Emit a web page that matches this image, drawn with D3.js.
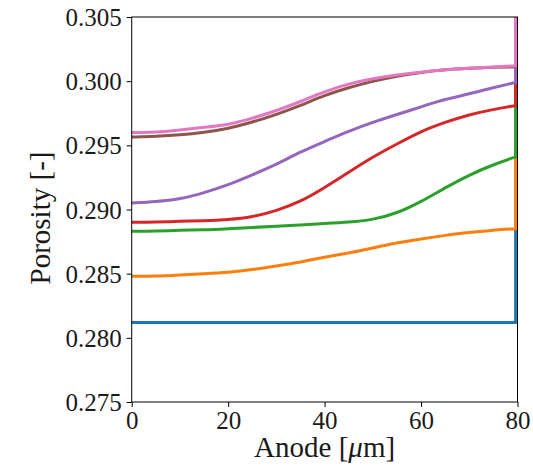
<!DOCTYPE html>
<html>
<head>
<meta charset="utf-8">
<script src="https://cdn.jsdelivr.net/npm/d3@7"></script>
<style>
  html, body { margin: 0; padding: 0; background: #fff; }
  svg { display: block; }
</style>
</head>
<body>
<svg id="chart" width="533" height="468"></svg>
<script>
// ---- data ----
const xs = [0, 5, 10, 15, 20, 25, 30, 35, 40, 45, 50, 55, 60, 65, 70, 75, 79.6];
const blue   = [0.2812,0.2812,0.2812,0.2812,0.2812,0.2812,0.2812,0.2812,0.2812,0.2812,0.2812,0.2812,0.2812,0.2812,0.2812,0.2812,0.2812];
const orange = [0.2848,0.2848,0.2849,0.2850,0.2851,0.2853,0.2856,0.2859,0.2863,0.2866,0.2870,0.2874,0.2877,0.2880,0.2882,0.2884,0.2885];
const green  = [0.2883,0.2883,0.2884,0.2884,0.2885,0.2886,0.2887,0.2888,0.2889,0.2890,0.2892,0.2897,0.2906,0.2917,0.2927,0.2935,0.2941];
const red    = [0.2890,0.2890,0.2891,0.2891,0.2892,0.2894,0.2899,0.2906,0.2917,0.2929,0.2941,0.2951,0.2961,0.2968,0.2974,0.2978,0.2981];
const purple = [0.2905,0.2906,0.2908,0.2913,0.2919,0.2927,0.2935,0.2945,0.2953,0.2961,0.2968,0.2974,0.2980,0.2986,0.2990,0.2995,0.2999];
const brown  = [0.29565,0.2957,0.2958,0.2960,0.2963,0.2968,0.2974,0.2981,0.2989,0.2995,0.3000,0.3004,0.3007,0.3009,0.3010,0.3011,0.3011];
const pink   = [0.2960,0.2960,0.2962,0.2964,0.2966,0.2971,0.2977,0.2984,0.2992,0.2998,0.3002,0.3005,0.3007,0.3009,0.3010,0.3011,0.3012];
const jumpValue = 0.32; // separator value beyond the top of the axis
const seriesList = [blue, orange, green, red, purple, brown, pink];
const colors = ["#1f77b4", "#ff7f0e", "#2ca02c", "#d62728", "#9467bd", "#8c564b", "#e377c2"];
const xTicks = [0, 20, 40, 60, 80];
const yTicks = [0.275, 0.280, 0.285, 0.290, 0.295, 0.300, 0.305];

// ---- layout ----
const L = 131.7, R = 517.5, T = 17, B = 402;
const svg = d3.select("#chart");
const x = d3.scaleLinear().domain([0, 80]).range([L, R]);
const y = d3.scaleLinear().domain([0.275, 0.305]).range([B, T]);
const font = "'Liberation Serif', 'Times New Roman', serif";

svg.append("defs").append("clipPath").attr("id", "clip")
  .append("rect").attr("x", L).attr("y", T).attr("width", R - L).attr("height", B - T);

const line = d3.line().x(d => x(d[0])).y(d => y(d[1])).curve(d3.curveBasis);
const g = svg.append("g").attr("clip-path", "url(#clip)");
seriesList.forEach((vals, i) => {
  const pts = xs.map((xv, j) => [xv, vals[j]]);
  const path = line(pts) + "L" + x(xs[xs.length - 1]) + "," + y(jumpValue);
  g.append("path").attr("d", path)
    .attr("fill", "none").attr("stroke", colors[i])
    .attr("stroke-width", 3).attr("stroke-linejoin", "miter").attr("stroke-linecap", "butt");
});

// axes
const xAxis = d3.axisBottom(x).tickValues(xTicks).tickSize(5).tickPadding(3).tickFormat(d3.format("d"));
const yAxis = d3.axisLeft(y).tickValues(yTicks).tickSize(5).tickPadding(5).tickFormat(d3.format(".3f"));
const gx = svg.append("g").attr("transform", `translate(0,${B})`).call(xAxis);
const gy = svg.append("g").attr("transform", `translate(${L},0)`).call(yAxis);
[gx, gy].forEach(a => {
  a.select(".domain").remove();
  a.selectAll(".tick line").attr("stroke", "#000").attr("stroke-width", 1);
  a.selectAll(".tick text").attr("fill", "#1a1a1a").style("font-family", font).style("font-size", "25px");
});
gy.selectAll(".tick text").attr("dy", "0.34em");
gx.selectAll(".tick text").attr("dy", "0.74em");

// frame
svg.append("rect").attr("x", L).attr("y", T).attr("width", R - L).attr("height", B - T)
  .attr("fill", "none").attr("stroke", "#000").attr("stroke-width", 1);

// labels
const xl = svg.append("text").attr("x", (L + R) / 2).attr("y", 457)
  .attr("text-anchor", "middle").attr("fill", "#1a1a1a")
  .style("font-family", font).style("font-size", "29px");
xl.append("tspan").text("Anode [");
xl.append("tspan").style("font-style", "italic").text("μ");
xl.append("tspan").text("m]");

svg.append("text").attr("transform", `translate(50,218) rotate(-90)`)
  .attr("text-anchor", "middle").attr("fill", "#1a1a1a")
  .style("font-family", font).style("font-size", "29px")
  .text("Porosity [-]");
</script>
</body>
</html>
